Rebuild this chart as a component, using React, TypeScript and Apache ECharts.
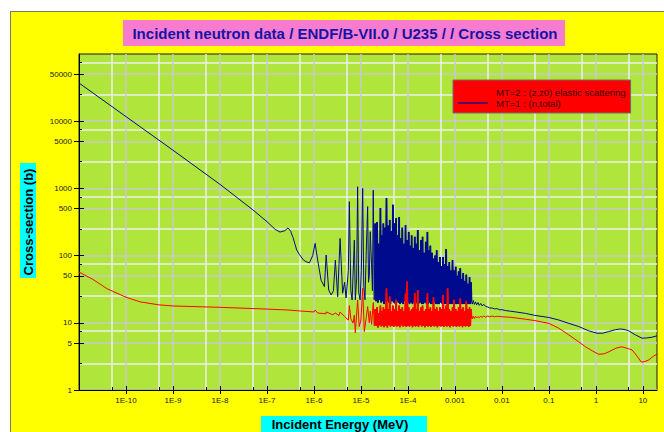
import React, { useEffect, useRef } from "react";
import * as echarts from "echarts";

const TITLE = "Incident neutron data / ENDF/B-VII.0 / U235 / / Cross section";
const X_TITLE = "Incident Energy (MeV)";
const Y_TITLE = "Cross-section (b)";
const ELASTIC_NAME = "MT=2 : (z,z0) elastic scattering";
const TOTAL_NAME = "MT=1 : (n,total)";

const xMajorTicks = [1e-10, 1e-9, 1e-8, 1e-7, 1e-6, 1e-5, 1e-4, 1e-3, 1e-2, 1e-1, 1, 10];
const xMinorTicks = [5e-11, 5e-10, 5e-9, 5e-8, 5e-7, 5e-6, 5e-5, 5e-4, 5e-3, 5e-2, 0.5, 5];
const yMajorTicks = [1, 5, 10, 50, 100, 500, 1000, 5000, 10000, 50000];
const yMinorTicks = [2.5, 7.5, 25, 75, 250, 750, 2500, 7500, 25000, 75000];

// Total cross section (MT=1), thermal and low resonance range: [E (MeV), sigma (b)]
const totalLow = [
  [1e-11, 37000], [1e-9, 3700], [1e-8, 1150], [5e-8, 480], [1e-7, 320], [1.5e-7, 245],
  [1.9e-7, 224], [2.4e-7, 235], [2.8e-7, 258], [3.2e-7, 230], [3.6e-7, 185], [4.3e-7, 121],
  [4.9e-7, 104], [6e-7, 86], [6.8e-7, 81], [8e-7, 78], [9.4e-7, 100], [1.06e-6, 152],
  [1.2e-6, 86], [1.42e-6, 43], [1.67e-6, 34.5], [1.82e-6, 102], [2.06e-6, 30.7], [2.32e-6, 26],
  [2.6e-6, 30], [2.86e-6, 86], [3.2e-6, 24.5], [3.6e-6, 180], [4.08e-6, 27.6], [4.5e-6, 40],
  [4.83e-6, 23.4], [5.4e-6, 60], [5.67e-6, 635], [6.1e-6, 30], [6.5e-6, 21.8], [7.24e-6, 170],
  [7.6e-6, 22], [8.1e-6, 45], [8.5e-6, 1060], [9.0e-6, 28], [9.6e-6, 22], [1.02e-5, 60],
  [1.09e-5, 1000], [1.15e-5, 35], [1.22e-5, 22], [1.3e-5, 120], [1.39e-5, 537], [1.45e-5, 40],
  [1.51e-5, 50], [1.58e-5, 227], [1.69e-5, 68], [1.76e-5, 30], [1.83e-5, 940], [1.92e-5, 22],
];

// Elastic cross section (MT=2), thermal and low resonance range
const elasticLow = [
  [1e-11, 57], [2e-11, 44], [4e-11, 32], [1e-10, 24], [2e-10, 20.5], [5e-10, 18.5],
  [1e-9, 17.8], [1e-8, 17], [1e-7, 16], [2.8e-7, 15.5], [5e-7, 15], [1e-6, 14.5],
  [1.06e-6, 15.5], [1.2e-6, 14], [1.8e-6, 13.6], [1.82e-6, 14.5], [2.5e-6, 13.2], [2.86e-6, 14],
  [3.4e-6, 12.8], [3.6e-6, 14.5], [4.5e-6, 12.4], [5.4e-6, 11], [5.67e-6, 18], [6.1e-6, 11.5],
  [6.8e-6, 9.9], [7.24e-6, 13], [7.6e-6, 7.1], [8.5e-6, 21.8], [9.2e-6, 8.8], [1.0e-5, 11],
  [1.09e-5, 32.5], [1.18e-5, 7.4], [1.3e-5, 12], [1.39e-5, 17.4], [1.51e-5, 10], [1.58e-5, 15],
  [1.69e-5, 9.5], [1.83e-5, 20], [1.92e-5, 9],
];

// Dense resolved-resonance grid (peak, valley, peak, ...), shared by both reactions
const denseEnergy = [
  2.0e-5, 2.1e-5, 2.2e-5, 2.3e-5, 2.4e-5, 2.5e-5, 2.6e-5, 2.7e-5, 2.8e-5, 2.9e-5,
  3.0e-5, 3.1e-5, 3.2e-5, 3.35e-5, 3.5e-5, 3.65e-5, 3.8e-5, 3.95e-5, 4.1e-5, 4.25e-5,
  4.4e-5, 4.6e-5, 4.8e-5, 5.0e-5, 5.2e-5, 5.4e-5, 5.6e-5, 5.8e-5, 6.0e-5, 6.25e-5,
  6.5e-5, 6.75e-5, 7.0e-5, 7.3e-5, 7.6e-5, 7.9e-5, 8.2e-5, 8.55e-5, 8.9e-5, 9.25e-5,
  9.6e-5, 1.0e-4, 1.04e-4, 1.08e-4, 1.12e-4, 1.16e-4, 1.2e-4, 1.25e-4, 1.3e-4, 1.35e-4,
  1.4e-4, 1.45e-4, 1.5e-4, 1.56e-4, 1.62e-4, 1.68e-4, 1.75e-4, 1.82e-4, 1.9e-4, 1.97e-4,
  2.05e-4, 2.12e-4, 2.2e-4, 2.3e-4, 2.4e-4, 2.5e-4, 2.6e-4, 2.7e-4, 2.8e-4, 2.9e-4,
  3.0e-4, 3.12e-4, 3.25e-4, 3.37e-4, 3.5e-4, 3.65e-4, 3.8e-4, 3.95e-4, 4.1e-4, 4.25e-4,
  4.4e-4, 4.6e-4, 4.8e-4, 5.0e-4, 5.2e-4, 5.4e-4, 5.6e-4, 5.8e-4, 6.0e-4, 6.25e-4,
  6.5e-4, 6.75e-4, 7.0e-4, 7.3e-4, 7.6e-4, 7.9e-4, 8.2e-4, 8.55e-4, 8.9e-4, 9.25e-4,
  9.6e-4, 1.0e-3, 1.04e-3, 1.08e-3, 1.12e-3, 1.16e-3, 1.2e-3, 1.25e-3, 1.3e-3, 1.35e-3,
  1.4e-3, 1.45e-3, 1.5e-3, 1.56e-3, 1.62e-3, 1.68e-3, 1.75e-3, 1.82e-3, 1.9e-3, 1.97e-3,
  2.05e-3, 2.12e-3, 2.2e-3, 2.25e-3,
];
const totalDense = [
  300, 21, 316, 20, 150, 22, 510, 20, 200, 21,
  300, 19, 260, 20, 720, 21, 280, 20, 340, 19,
  230, 21, 570, 20, 300, 19, 360, 21, 200, 20,
  375, 19, 180, 20, 260, 19, 150, 21, 285, 19,
  170, 20, 225, 19, 140, 20, 200, 19, 130, 20,
  190, 19, 150, 20, 240, 19, 120, 20, 170, 19,
  190, 19, 110, 20, 160, 19, 225, 19, 120, 20,
  140, 19, 110, 19, 90, 20, 100, 19, 120, 19,
  80, 19, 95, 20, 70, 19, 95, 19, 75, 19,
  125, 19, 70, 19, 80, 19, 60, 19, 86, 19,
  60, 19, 68, 19, 50, 19, 58, 19, 65, 19,
  45, 19, 55, 19, 42, 19, 52, 19, 38, 19,
  48, 19, 40, 21,
];
const elasticDense = [
  16, 9, 17, 8.5, 14, 9.2, 18, 8.8, 15, 9,
  17, 8.6, 16, 9, 32.5, 8.5, 16, 9.2, 24.5, 8.8,
  15, 9, 18, 8.7, 16, 9.1, 22, 8.8, 15, 9,
  18, 8.6, 16, 9.2, 17, 8.8, 15, 9, 27.5, 8.7,
  41, 9, 17, 8.8, 15, 9.1, 16, 8.6, 17, 9,
  27.5, 8.8, 16, 9, 30.7, 8.7, 15, 9.2, 17, 8.8,
  18, 9, 15, 8.6, 16, 9, 27.5, 8.8, 16, 9,
  17, 8.7, 15, 9.1, 24, 8.8, 16, 9, 17, 8.6,
  15, 9, 17, 8.8, 16, 9, 26, 8.7, 16, 9,
  18, 8.8, 32.6, 9, 16, 8.6, 15, 9.1, 17, 8.8,
  22, 9, 16, 8.7, 15, 9, 17, 8.8, 23, 9,
  16, 8.6, 17, 9, 15, 8.8, 21, 9, 16, 8.7,
  17, 9, 16, 12,
];

// Unresolved and fast range
const totalHigh = [
  [2.35e-3, 19], [2.45e-3, 21.5], [2.6e-3, 18.8], [2.75e-3, 20.5], [2.9e-3, 18.5], [3.1e-3, 20],
  [3.3e-3, 18.2], [3.55e-3, 19.4], [3.8e-3, 17.8], [4.1e-3, 18.9], [4.5e-3, 17.5], [5e-3, 17.2],
  [5.5e-3, 16.6], [6.2e-3, 16.6], [7e-3, 16.1], [8e-3, 16.2], [9e-3, 15.6], [0.01, 15.7],
  [0.012, 15.2], [0.015, 14.9], [0.02, 14.5], [0.032, 13.8], [0.05, 12.9], [0.1, 12],
  [0.163, 11], [0.266, 9.8], [0.433, 8.8], [0.7, 7.6], [1.06, 7.0], [1.4, 7.0], [1.88, 7.4],
  [2.6, 7.9], [3.33, 8.1], [4.2, 7.9], [5.0, 7.6], [7.0, 6.6], [9.6, 5.9], [12, 5.95],
  [15.6, 6.1], [20, 6.4],
];
const elasticHigh = [
  [2.35e-3, 11.4], [2.45e-3, 12.6], [2.6e-3, 11.6], [2.75e-3, 12.5], [2.9e-3, 11.8], [3.1e-3, 12.4],
  [3.3e-3, 11.9], [3.55e-3, 12.6], [3.8e-3, 12], [4.1e-3, 12.7], [4.5e-3, 12.1], [5e-3, 12.6],
  [5.5e-3, 12.3], [6.2e-3, 12.6], [7e-3, 12.3], [8e-3, 12.5], [0.01, 12.3], [0.015, 12.1],
  [0.02, 11.8], [0.032, 11.3], [0.05, 10.8], [0.1, 9.8], [0.163, 8.3], [0.266, 6.6],
  [0.433, 5.2], [0.6, 4.4], [0.85, 3.8], [1.15, 3.4], [1.5, 3.45], [1.88, 3.7], [2.7, 4.2],
  [3.6, 4.4], [5.0, 4.1], [5.9, 3.95], [7.5, 3.2], [9.3, 2.6], [11, 2.65], [13.3, 2.8],
  [17, 3.2], [20, 3.4],
];

const totalDenseData = denseEnergy.map((e, i) => [e, totalDense[i]]);
const elasticDenseData = denseEnergy.map((e, i) => [e, elasticDense[i]]);
const totalData = [...totalLow, ...totalDenseData, ...totalHigh];
const elasticData = [...elasticLow, ...elasticDenseData, ...elasticHigh];

const FONT = "Arial, 'Liberation Sans', sans-serif";
const MAJOR_GRID = "#c9c9c9";
const MINOR_GRID = "#eeeeee";
const BLUE = "#000a8c";
const RED = "#ff0000";
const LINE_ICON = "path://M0 0H30V1.3H0Z";

function xLabel(v: number): string {
  const exp = Math.round(Math.log10(v));
  if (exp >= 0) return String(Math.pow(10, exp));
  if (exp >= -3) return Math.pow(10, exp).toFixed(-exp);
  return "1E" + exp;
}

function logAxisBase(min: number, max: number) {
  return { type: "log", logBase: 10, min, max, gridIndex: 0 } as any;
}

function lineSeries(name: string, data: number[][], color: string, width: number, z: number) {
  return {
    name, type: "line", data, xAxisIndex: 0, yAxisIndex: 0,
    symbol: "none", showSymbol: false, z,
    lineStyle: { color, width }, itemStyle: { color },
  };
}

export default function App() {
  const ref = useRef<HTMLDivElement>(null);
  useEffect(() => {
    if (!ref.current) return;
    const chart = echarts.init(ref.current, undefined, { renderer: "svg" });
    const xMin = 1e-11, xMax = 20, yMin = 1, yMax = 100000;
    chart.setOption({
      animation: false,
      backgroundColor: "transparent",
      grid: {
        left: 79, top: 54, right: 7, bottom: 42,
        show: true, backgroundColor: "#b0e63c", borderColor: "#1a1a1a", borderWidth: 1,
        containLabel: false, outerBoundsMode: "none",
      },
      legend: {
        data: [
          { name: ELASTIC_NAME, icon: LINE_ICON },
          { name: TOTAL_NAME, icon: LINE_ICON },
        ],
        orient: "vertical", left: 453, top: 80,
        padding: [7, 5, 5, 5], itemGap: 1, itemWidth: 30, itemHeight: 10,
        backgroundColor: "#ff0000", borderColor: "#6e6e6e", borderWidth: 1,
        selectedMode: false,
        textStyle: { fontSize: 9.5, color: "#3a0000", fontFamily: FONT, padding: [0, 0, 0, 3] },
      },
      xAxis: [
        {
          ...logAxisBase(xMin, xMax), position: "bottom",
          axisLine: { show: true, onZero: false, lineStyle: { color: "#000", width: 1 } },
          axisTick: { show: true, inside: false, length: 4, customValues: xMajorTicks, lineStyle: { color: "#000" } },
          axisLabel: { customValues: xMajorTicks, formatter: xLabel, fontSize: 8, color: "#222", margin: 6, fontFamily: FONT },
          splitLine: { show: true, lineStyle: { color: MAJOR_GRID, width: 1.5 } },
        },
        {
          ...logAxisBase(xMin, xMax), position: "bottom",
          axisLine: { show: false, onZero: false },
          axisTick: { show: true, inside: true, length: 3, customValues: xMinorTicks, lineStyle: { color: "#000" } },
          axisLabel: { show: false },
          splitLine: { show: true, lineStyle: { color: MINOR_GRID, width: 1.5 } },
        },
        {
          ...logAxisBase(xMin, xMax), position: "bottom",
          axisLine: { show: false, onZero: false },
          axisTick: { show: true, inside: true, length: 4, customValues: xMajorTicks, lineStyle: { color: "#000" } },
          axisLabel: { show: false },
          splitLine: { show: false },
        },
      ],
      yAxis: [
        {
          ...logAxisBase(yMin, yMax), position: "left",
          axisLine: { show: true, onZero: false, lineStyle: { color: "#000", width: 1 } },
          axisTick: { show: true, inside: false, length: 5, customValues: yMajorTicks, lineStyle: { color: "#000" } },
          axisLabel: { customValues: yMajorTicks, formatter: (v: number) => String(Math.round(v)), fontSize: 8, color: "#222", margin: 7, fontFamily: FONT },
          splitLine: { show: true, lineStyle: { color: MAJOR_GRID, width: 1.5 } },
        },
        {
          ...logAxisBase(yMin, yMax), position: "left",
          axisLine: { show: false, onZero: false },
          axisTick: { show: true, inside: true, length: 3, customValues: yMinorTicks, lineStyle: { color: "#000" } },
          axisLabel: { show: false },
          splitLine: { show: true, lineStyle: { color: MINOR_GRID, width: 1.5 } },
        },
        {
          ...logAxisBase(yMin, yMax), position: "left",
          axisLine: { show: false, onZero: false },
          axisTick: { show: true, inside: true, length: 5, customValues: yMajorTicks, lineStyle: { color: "#000" } },
          axisLabel: { show: false },
          splitLine: { show: false },
        },
      ],
      series: [
        lineSeries(TOTAL_NAME, totalData, BLUE, 1, 3),
        lineSeries(TOTAL_NAME, totalDenseData, BLUE, 1.8, 3),
        lineSeries(ELASTIC_NAME, elasticData, RED, 1, 4),
        lineSeries(ELASTIC_NAME, elasticDenseData, RED, 1.8, 4),
      ],
      graphic: [
        { type: "rect", shape: { x: 123, y: 20, width: 442, height: 26 }, style: { fill: "#f77ccf" }, z: 10 },
        {
          type: "text", x: 345, y: 33, z: 11,
          style: { text: TITLE, fill: "#1414a8", font: `bold 15px ${FONT}`, align: "center", verticalAlign: "middle" },
        },
        { type: "rect", shape: { x: 20, y: 163, width: 16, height: 115 }, style: { fill: "#00ffff" }, z: 10 },
        {
          type: "text", x: 28, y: 222, rotation: Math.PI / 2, z: 11,
          style: { text: Y_TITLE, fill: "#000", font: `bold 13px ${FONT}`, align: "center", verticalAlign: "middle" },
        },
        { type: "rect", shape: { x: 261, y: 416, width: 166, height: 20 }, style: { fill: "#00ffff" }, z: 10 },
        {
          type: "text", x: 340, y: 424, z: 11,
          style: { text: X_TITLE, fill: "#000", font: `bold 13px ${FONT}`, align: "center", verticalAlign: "middle" },
        },
      ],
    } as any);
    return () => chart.dispose();
  }, []);

  return (
    <div style={{ position: "fixed", left: 0, top: 0, width: 664, height: 432, background: "#fff", overflow: "hidden" }}>
      <div
        style={{
          position: "absolute", left: 10, top: 11, width: 660, height: 430,
          background: "#ffff00", borderLeft: "1.5px solid #7f7f5c", borderTop: "1.5px solid #7f7f5c",
        }}
      />
      <div ref={ref} style={{ position: "absolute", left: 0, top: 0, width: 664, height: 432 }} />
    </div>
  );
}
